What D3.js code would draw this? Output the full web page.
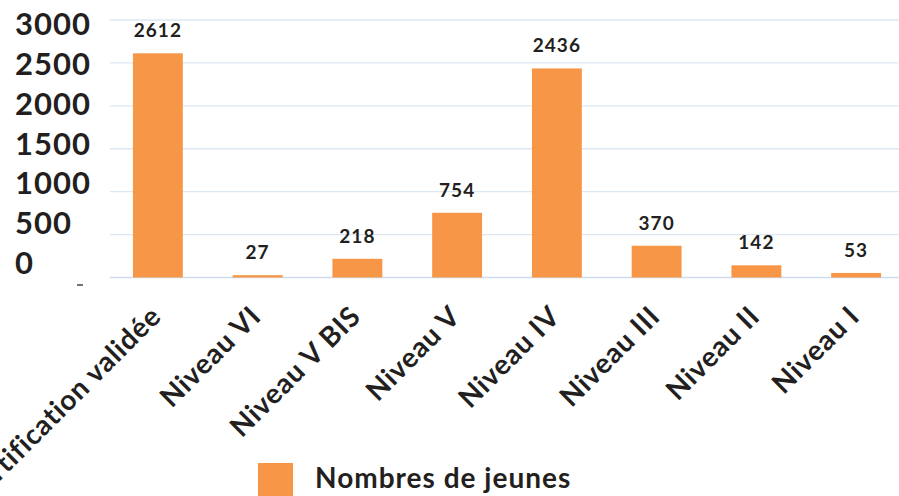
<!DOCTYPE html>
<html>
<head>
<meta charset="utf-8">
<script src="https://cdn.jsdelivr.net/npm/d3@7"></script>
<style>
  body { margin: 0; background: #fff; }
  text { font-family: Lato, "DejaVu Sans", sans-serif; font-weight: 700; fill: #231f20; }
</style>
</head>
<body>
<div id="chart"></div>
<script>
// data
const categories = ["Certification validée", "Niveau VI", "Niveau V BIS", "Niveau V",
                    "Niveau IV", "Niveau III", "Niveau II", "Niveau I"];
const values = [2612, 27, 218, 754, 2436, 370, 142, 53];
const yTicks = [0, 500, 1000, 1500, 2000, 2500, 3000];
const seriesName = "Nombres de jeunes";

const width = 899, height = 496;
const orange = "#f79646";

const svg = d3.select("#chart")
  .append("svg")
    .attr("width", width)
    .attr("height", height);

// scales
const x = d3.scaleBand()
  .domain(categories)
  .range([108, 906])
  .paddingInner(0.5)
  .paddingOuter(0.25);

const y = d3.scaleLinear()
  .domain([0, 3000])
  .range([277.5, 20]);

// tick labels sit a bit off the gridlines in the original
const yLabel = d3.scaleLinear()
  .domain([0, 3000])
  .range([263, 24]);

// gridlines
svg.append("g")
  .selectAll("line")
  .data(yTicks)
  .join("line")
    .attr("x1", 110)
    .attr("x2", width)
    .attr("y1", d => y(d))
    .attr("y2", d => y(d))
    .attr("stroke", d => d === 0 ? "#cfdcec" : "#dde7f3")
    .attr("stroke-width", 1.3);

// y labels
svg.append("g")
  .selectAll("text")
  .data(yTicks)
  .join("text")
    .attr("x", 15)
    .attr("y", d => yLabel(d))
    .attr("dy", "0.36em")
    .attr("font-size", 31)
    .attr("letter-spacing", 1)
    .text(d => d);

// small dash under the 0
svg.append("line")
  .attr("x1", 77).attr("x2", 83)
  .attr("y1", 285).attr("y2", 285)
  .attr("stroke", "#444")
  .attr("stroke-width", 1.5);

// bars
svg.append("g")
  .selectAll("rect")
  .data(values)
  .join("rect")
    .attr("x", (d, i) => x(categories[i]))
    .attr("y", d => y(d))
    .attr("width", x.bandwidth())
    .attr("height", d => y(0) - y(d))
    .attr("fill", orange);

// value labels
svg.append("g")
  .selectAll("text")
  .data(values)
  .join("text")
    .attr("x", (d, i) => x(categories[i]) + x.bandwidth() / 2)
    .attr("y", d => y(d) - 16)
    .attr("text-anchor", "middle")
    .attr("font-size", 19)
    .attr("letter-spacing", 1)
    .text(d => d);

// category labels, rotated
svg.append("g")
  .selectAll("text")
  .data(categories)
  .join("text")
    .attr("transform", d => `translate(${x(d) + x.bandwidth() / 2 + 5}, 318) rotate(-45)`)
    .attr("text-anchor", "end")
    .attr("font-size", 28)
    .attr("letter-spacing", 0.8)
    .text(d => d);

// legend
svg.append("rect")
  .attr("x", 258)
  .attr("y", 463)
  .attr("width", 35)
  .attr("height", 35)
  .attr("fill", orange);

svg.append("text")
  .attr("x", 315)
  .attr("y", 488)
  .attr("font-size", 28)
  .attr("letter-spacing", 1)
  .text(seriesName);
</script>
</body>
</html>
